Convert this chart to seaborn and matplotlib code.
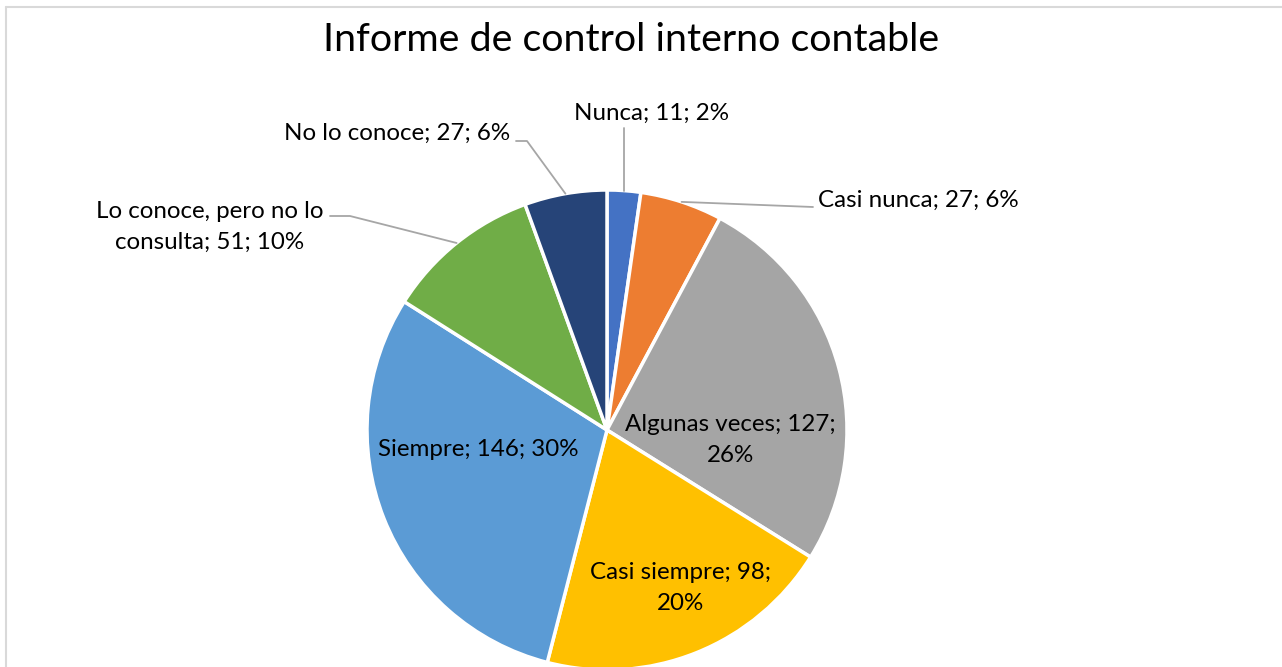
import numpy as np
import matplotlib
matplotlib.use("Agg")
import matplotlib.pyplot as plt
import seaborn as sns
from matplotlib.lines import Line2D

# Survey answers: frequency of consulting the internal accounting control report
categories = ["Nunca", "Casi nunca", "Algunas veces", "Casi siempre",
              "Siempre", "Lo conoce, pero no lo consulta", "No lo conoce"]
counts = [11, 27, 127, 98, 146, 51, 27]
percent_labels = ["2%", "6%", "26%", "20%", "30%", "10%", "6%"]

title = "Informe de control interno contable"

sns.set_theme(style="white")
plt.rcParams["font.family"] = ["Lato", "DejaVu Sans"]

colors = sns.color_palette(["#4472C4", "#ED7D31", "#A5A5A5", "#FFC000",
                            "#5B9BD5", "#70AD47", "#264478"])

W, H = 1282, 667
fig = plt.figure(figsize=(W / 100, H / 100), dpi=100)
ax = fig.add_axes([0, 0, 1, 1])

cx, cy, R = 607, 430, 240
wedges, _ = ax.pie(counts, colors=colors, startangle=-90, counterclock=True,
                   center=(cx, cy), radius=R,
                   wedgeprops=dict(edgecolor="white", linewidth=2.5))
ax.set_xlim(0, W)
ax.set_ylim(H, 0)
ax.set_aspect("equal")
ax.axis("off")

# chart frame: only the left and top edges fall inside the image
frame_kw = dict(transform=fig.transFigure, color="#D9D9D9", linewidth=1.5)
fig.lines.append(Line2D([6 / W, 6 / W], [0, 1 - 7 / H], **frame_kw))
fig.lines.append(Line2D([6 / W, 1], [1 - 7 / H, 1 - 7 / H], **frame_kw))

ax.text(631, 40, title, ha="center", va="center", fontsize=28.4, color="black")

total = sum(counts)
mids = []
start = -90.0
for c in counts:
    span = c / total * 360
    mids.append(np.deg2rad(start + span / 2))
    start += span


def edge_point(i):
    return cx + R * np.cos(mids[i]), cy + R * np.sin(mids[i])


label_txt = [f"{c}; {n}; {p}" for c, n, p in zip(categories, counts, percent_labels)]
label_txt[2] = f"{categories[2]}; {counts[2]};\n{percent_labels[2]}"
label_txt[3] = f"{categories[3]}; {counts[3]};\n{percent_labels[3]}"
label_txt[5] = f"Lo conoce, pero no lo\nconsulta; {counts[5]}; {percent_labels[5]}"

fs = 17.4
tc = "black"
lc = "#A6A6A6"

# label placements
pos = {0: (652, 113, "center"), 1: (818, 200, "left"), 2: (730, 440, "center"),
       3: (680, 588, "center"), 4: (478, 450, "center"), 5: (210, 227, "center"),
       6: (397, 133, "center")}
for i, (x, y, ha) in pos.items():
    ax.text(x, y, label_txt[i], ha=ha, va="center", fontsize=fs, color=tc,
            linespacing=1.55, multialignment="center")

# leader lines from wedge edges to outside labels
x0, y0 = edge_point(0)
ax.plot([x0, x0], [y0, 128], color=lc, lw=1.3)
x1, y1 = edge_point(1)
ax.plot([x1, 813], [y1, 207], color=lc, lw=1.3)
x6, y6 = edge_point(6)
ax.plot([x6, 527, 516], [y6, 141, 141], color=lc, lw=1.3)
x5, y5 = edge_point(5)
ax.plot([x5, 350, 330], [y5, 216, 216], color=lc, lw=1.3)

fig.savefig("out.png", dpi=100, facecolor="white")
